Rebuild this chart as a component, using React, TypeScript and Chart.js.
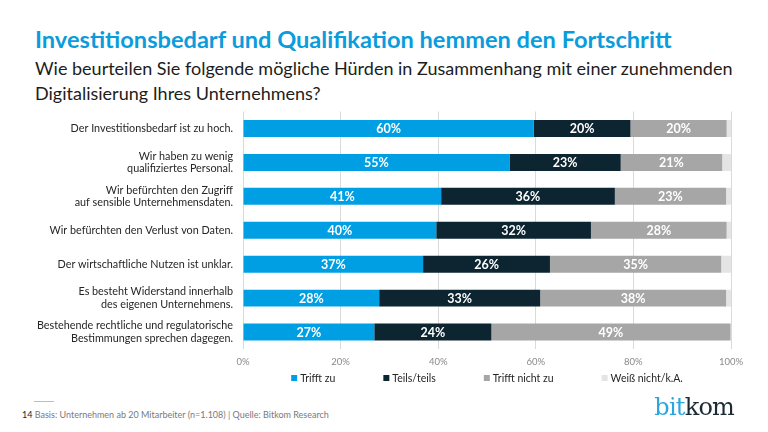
import React, { useEffect, useRef } from "react";
import { Chart, registerables } from "chart.js";

Chart.register(...registerables);

const FONT = "Lato, 'Noto Sans', sans-serif";

const categories = [
  "Der Investitionsbedarf ist zu hoch.",
  ["Wir haben zu wenig", "qualifiziertes Personal."],
  ["Wir befürchten den Zugriff", "auf sensible Unternehmensdaten."],
  "Wir befürchten den Verlust von Daten.",
  "Der wirtschaftliche Nutzen ist unklar.",
  ["Es besteht Widerstand innerhalb", "des eigenen Unternehmens."],
  ["Bestehende rechtliche und regulatorische", "Bestimmungen sprechen dagegen."],
];

const seriesNames = ["Trifft zu", "Teils/teils", "Trifft nicht zu", "Weiß nicht/k.A."];

// Anteile in %
const trifftZu = [59.6, 54.6, 40.6, 39.6, 36.9, 27.9, 26.9];
const teilsTeils = [19.8, 22.8, 35.6, 31.7, 26.0, 33.0, 24.0];
const trifftNichtZu = [19.7, 20.8, 22.8, 27.8, 35.1, 38.1, 49.0];
const weissNicht = [0.9, 1.8, 1.0, 0.9, 2.0, 1.0, 0.1];

const xTicks = [0, 20, 40, 60, 80, 100];

const colors = ["#009FE3", "#0C2531", "#A6A6A6", "#E4E4E4"];

// white % labels inside the first three segments
const barLabels = {
  id: "barLabels",
  afterDatasetsDraw(chart: any) {
    const ctx = chart.ctx;
    ctx.save();
    ctx.font = `bold 12.5px ${FONT}`;
    ctx.fillStyle = "#ffffff";
    ctx.textAlign = "center";
    ctx.textBaseline = "middle";
    chart.data.datasets.forEach((ds: any, i: number) => {
      if (i > 2) return;
      const meta = chart.getDatasetMeta(i);
      meta.data.forEach((bar: any, j: number) => {
        const { x, base, y } = bar.getProps(["x", "base", "y"], true);
        ctx.fillText(Math.round(ds.data[j]) + "%", (x + base) / 2, y + 0.5);
      });
    });
    ctx.restore();
  },
};

// legend row centred under the plot area
const legendRow = {
  id: "legendRow",
  afterDraw(chart: any) {
    const { ctx, chartArea } = chart;
    ctx.save();
    ctx.font = `10.5px ${FONT}`;
    const box = 6;
    const gap = 3;
    const spacing = 48;
    const items = chart.data.datasets.map((ds: any) => ({
      text: ds.label,
      color: ds.backgroundColor,
      w: box + gap + ctx.measureText(ds.label).width,
    }));
    const total =
      items.reduce((s: number, it: any) => s + it.w, 0) + spacing * (items.length - 1);
    let x = (chartArea.left + chartArea.right) / 2 - total / 2;
    const y = chartArea.bottom + 29;
    ctx.textBaseline = "middle";
    ctx.textAlign = "left";
    items.forEach((it: any) => {
      ctx.fillStyle = it.color;
      ctx.fillRect(x, y - box / 2, box, box);
      ctx.fillStyle = "#262626";
      ctx.fillText(it.text, x + box + gap, y + 0.5);
      x += it.w + spacing;
    });
    ctx.restore();
  },
};

const BarChart: React.FC = () => {
  const canvasRef = useRef<HTMLCanvasElement>(null);

  useEffect(() => {
    if (!canvasRef.current) return;
    const values = [trifftZu, teilsTeils, trifftNichtZu, weissNicht];
    const chart = new Chart(canvasRef.current, {
      type: "bar",
      data: {
        labels: categories as any,
        datasets: seriesNames.map((name, i) => ({
          label: name,
          data: values[i],
          backgroundColor: colors[i],
          borderWidth: 0,
          barPercentage: 0.5,
          categoryPercentage: 1,
        })),
      },
      options: {
        indexAxis: "y",
        animation: false,
        responsive: true,
        maintainAspectRatio: false,
        events: [],
        layout: {
          padding: { top: 6.5, bottom: 28, left: 0, right: 37 },
        },
        plugins: {
          legend: { display: false },
          tooltip: { enabled: false },
        },
        scales: {
          x: {
            stacked: true,
            min: 0,
            max: 100,
            afterBuildTicks: (scale: any) => {
              scale.ticks = xTicks.map((v) => ({ value: v }));
            },
            afterFit: (scale: any) => {
              scale.height = 18;
            },
            ticks: {
              callback: (v: any) => v + "%",
              color: "#8a8a8a",
              font: { family: FONT, size: 9.5 },
              padding: 7,
            },
            grid: { color: "#dadada", drawTicks: false },
            border: { display: false },
          },
          y: {
            stacked: true,
            afterFit: (scale: any) => {
              scale.width = 243;
              scale.paddingTop = 0;
              scale.paddingBottom = 0;
            },
            ticks: {
              color: "#262626",
              font: { family: FONT, size: 10.8, lineHeight: 1.15 },
              padding: 10,
            },
            grid: { display: false, drawTicks: false },
            border: { display: false },
          },
        },
      },
      plugins: [barLabels, legendRow],
    });
    return () => {
      chart.destroy();
    };
  }, []);

  return <canvas ref={canvasRef} />;
};

const App: React.FC = () => {
  return (
    <div
      style={{
        position: "absolute",
        left: 0,
        top: 0,
        width: 768,
        height: 432,
        background: "#ffffff",
        fontFamily: FONT,
        overflow: "hidden",
      }}
    >
      <div
        style={{
          position: "absolute",
          left: 35,
          top: 25,
          fontSize: 23.6,
          lineHeight: "28px",
          fontWeight: 700,
          color: "#0A9CDB",
          whiteSpace: "nowrap",
        }}
      >
        Investitionsbedarf und Qualifikation hemmen den Fortschritt
      </div>
      <div
        style={{
          position: "absolute",
          left: 35,
          top: 56,
          fontSize: 18,
          lineHeight: "25px",
          color: "#1d1d1b",
          whiteSpace: "nowrap",
        }}
      >
        Wie beurteilen Sie folgende mögliche Hürden in Zusammenhang mit einer zunehmenden
        <br />
        Digitalisierung Ihres Unternehmens?
      </div>
      <div style={{ position: "absolute", left: 0, top: 105, width: 768, height: 290 }}>
        <BarChart />
      </div>
      <div
        style={{
          position: "absolute",
          left: 34,
          top: 401,
          width: 20,
          height: 1,
          background: "#bdbdbd",
        }}
      />
      <div
        style={{
          position: "absolute",
          left: 22,
          top: 409,
          fontSize: 9,
          lineHeight: "12px",
          color: "#7a7a7a",
          whiteSpace: "nowrap",
        }}
      >
        <span style={{ color: "#1d1d1b" }}>14</span> Basis: Unternehmen ab 20 Mitarbeiter
        (n=1.108) | Quelle: Bitkom Research
      </div>
      <div
        style={{
          position: "absolute",
          right: 34,
          top: 393,
          fontFamily: "'DejaVu Serif', serif",
          fontSize: 24,
          lineHeight: "28px",
          letterSpacing: -0.8,
          whiteSpace: "nowrap",
        }}
      >
        <span style={{ color: "#2AA7E0" }}>bit</span>
        <span style={{ color: "#1B2A33" }}>kom</span>
      </div>
    </div>
  );
};

export default App;
